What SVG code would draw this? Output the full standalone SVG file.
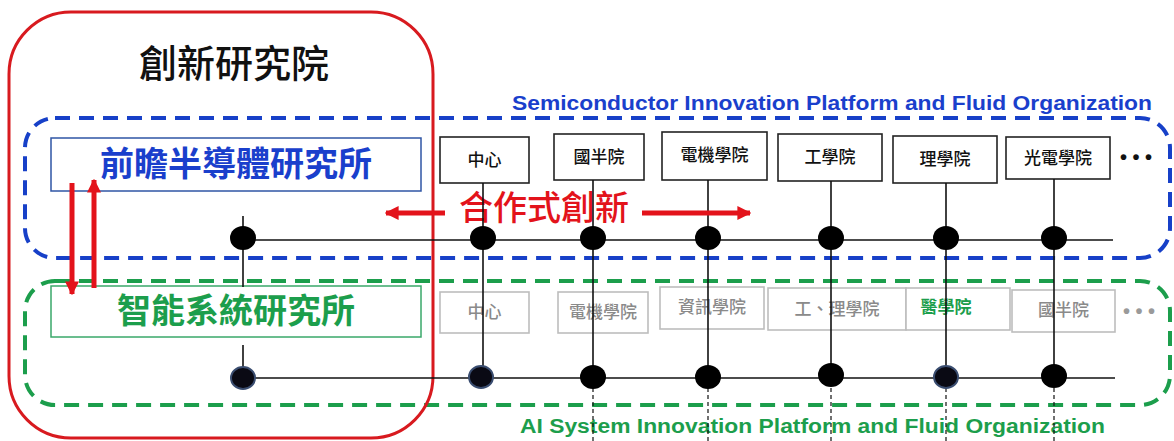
<svg xmlns="http://www.w3.org/2000/svg" width="1174" height="441" viewBox="0 0 1174 441">
<defs>
<style>
.cjk{font-family:"Noto Sans CJK TC","Noto Sans CJK SC",sans-serif}
.lat{font-family:"Liberation Sans",Arial,sans-serif;font-weight:bold}
.box{fill:#fff;stroke:#222;stroke-width:1.6}
.gbox{fill:#fff;stroke:#bdbdbd;stroke-width:1.6}
.lbl{font-size:17px;fill:#111;font-weight:500;text-anchor:middle}
.glbl{font-size:17px;fill:#8a8a8a;font-weight:500;text-anchor:middle}
.bus{stroke:#111;stroke-width:1.6;fill:none}
.dash{stroke:#111;stroke-width:1.2;stroke-dasharray:4 3;fill:none}
.dot{fill:#000}
.dotb{fill:#0a0a14;stroke:#3a4d70;stroke-width:2}
.red{stroke:#e3131b;stroke-width:5;fill:none}
</style>
<marker id="ah" viewBox="0 0 10 10" refX="9" refY="5" markerWidth="2.8" markerHeight="2.8" orient="auto" markerUnits="strokeWidth">
<path d="M0,0 L10,5 L0,10 Z" fill="#e3131b"/>
</marker>
</defs>
<rect width="1174" height="441" fill="#fff"/>

<g id="semiconductor-platform">
<rect x="25" y="118" width="1145" height="140" rx="30" fill="none" stroke="#1740c8" stroke-width="4" stroke-dasharray="15 9"/>
<text class="lat" x="512" y="110" font-size="20" fill="#1a3fcc" textLength="640" lengthAdjust="spacingAndGlyphs">Semiconductor Innovation Platform and Fluid Organization</text>
</g>
<g id="ai-platform">
<rect x="25" y="281" width="1145" height="124" rx="30" fill="none" stroke="#1c9e4c" stroke-width="4" stroke-dasharray="15 9"/>
<text class="lat" x="520" y="433" font-size="20" fill="#1c9e4c" textLength="585" lengthAdjust="spacingAndGlyphs">AI System Innovation Platform and Fluid Organization</text>
</g>

<g id="innovation-institute">
<rect x="9" y="12" width="424" height="426" rx="62" fill="none" stroke="#d81a1f" stroke-width="3"/>
<text class="cjk" x="234" y="77" font-size="38" font-weight="500" fill="#111" text-anchor="middle">創新研究院</text>
</g>

<g id="collab-label">
<text class="cjk" x="544" y="220" font-size="34" font-weight="500" fill="#e3131b" text-anchor="middle">合作式創新</text>
</g>

<g id="semi-institute">
<rect x="51" y="138" width="370" height="53" fill="#fff" stroke="#2f55a5" stroke-width="1.5"/>
<text class="cjk" x="236" y="176" font-size="34" font-weight="bold" fill="#1a3fcc" text-anchor="middle">前瞻半導體研究所</text>
</g>
<g id="ai-institute">
<rect x="51" y="286" width="370" height="51" fill="#fff" stroke="#3aa86a" stroke-width="1.5"/>
<text class="cjk" x="236" y="323" font-size="34" font-weight="bold" fill="#1c9e4c" text-anchor="middle">智能系統研究所</text>
</g>

<g id="top-center"><rect class="box" x="440" y="137" width="89" height="46"/><text class="cjk lbl" x="484.5" y="166">中心</text></g>
<g id="top-nsri"><rect class="box" x="554" y="134" width="90" height="46"/><text class="cjk lbl" x="599" y="163">國半院</text></g>
<g id="top-ee"><rect class="box" x="662" y="132" width="105" height="48"/><text class="cjk lbl" x="714.5" y="161">電機學院</text></g>
<g id="top-eng"><rect class="box" x="778" y="134" width="104" height="47"/><text class="cjk lbl" x="830" y="163">工學院</text></g>
<g id="top-sci"><rect class="box" x="893" y="136" width="104" height="47"/><text class="cjk lbl" x="945" y="165">理學院</text></g>
<g id="top-opto"><rect class="box" x="1006" y="137" width="104" height="42"/><text class="cjk lbl" x="1058" y="164">光電學院</text></g>
<g id="top-more"><text class="lat" x="1120" y="164" font-size="20" fill="#111">• • •</text></g>

<g id="bot-center"><rect class="gbox" x="440" y="292" width="89" height="41"/><text class="cjk glbl" x="484.5" y="318">中心</text></g>
<g id="bot-ee"><rect class="gbox" x="558" y="292" width="90" height="41"/><text class="cjk glbl" x="603" y="318">電機學院</text></g>
<g id="bot-cs"><rect class="gbox" x="660" y="287" width="104" height="42"/><text class="cjk glbl" x="712" y="313">資訊學院</text></g>
<g id="bot-engsci"><rect class="gbox" x="768" y="288" width="138" height="42"/><text class="cjk glbl" x="837" y="315">工、理學院</text></g>
<g id="bot-med"><rect class="gbox" x="906" y="288" width="104" height="42"/><text class="cjk" x="946" y="313" font-size="17" font-weight="bold" fill="#1c9e4c" text-anchor="middle">醫學院</text></g>
<g id="bot-nsri"><rect class="gbox" x="1012" y="290" width="103" height="42"/><text class="cjk glbl" x="1063.5" y="316">國半院</text></g>
<g id="bot-more"><text class="lat" x="1123" y="318" font-size="20" fill="#9a9a9a">• • •</text></g>

<g id="connectors">
<line class="bus" x1="243" y1="240" x2="1113" y2="240"/>
<line class="bus" x1="243" y1="378" x2="1115" y2="378"/>
<line class="bus" x1="243" y1="216" x2="243" y2="287"/>
<line class="bus" x1="243" y1="345" x2="243" y2="378"/>
<line class="bus" x1="483" y1="183" x2="483" y2="378"/>
<line class="bus" x1="593" y1="180" x2="593" y2="378"/>
<line class="bus" x1="708" y1="180" x2="708" y2="378"/>
<line class="bus" x1="831" y1="181" x2="831" y2="378"/>
<line class="bus" x1="946" y1="183" x2="946" y2="378"/>
<line class="bus" x1="1054" y1="179" x2="1054" y2="378"/>
<line class="dash" x1="593" y1="388" x2="593" y2="441"/>
<line class="dash" x1="708" y1="388" x2="708" y2="441"/>
<line class="dash" x1="831" y1="388" x2="831" y2="441"/>
<line class="dash" x1="946" y1="388" x2="946" y2="441"/>
<line class="dash" x1="1054" y1="388" x2="1054" y2="441"/>
<ellipse class="dot" cx="243" cy="238" rx="13" ry="12"/>
<ellipse class="dot" cx="483" cy="238" rx="13" ry="12"/>
<ellipse class="dot" cx="593" cy="238" rx="13" ry="12"/>
<ellipse class="dot" cx="708" cy="238" rx="13" ry="12"/>
<ellipse class="dot" cx="831" cy="238" rx="13" ry="12"/>
<ellipse class="dot" cx="946" cy="238" rx="13" ry="12"/>
<ellipse class="dot" cx="1054" cy="238" rx="13" ry="12"/>
<ellipse class="dotb" cx="243" cy="378" rx="12" ry="11"/>
<ellipse class="dotb" cx="481" cy="377" rx="12" ry="11"/>
<ellipse class="dot" cx="593" cy="377" rx="13" ry="12"/>
<ellipse class="dot" cx="708" cy="377" rx="13" ry="12"/>
<ellipse class="dot" cx="831" cy="375" rx="13" ry="12"/>
<ellipse class="dotb" cx="946" cy="377" rx="12" ry="11"/>
<ellipse class="dot" cx="1054" cy="376" rx="13" ry="12"/>
<line class="red" x1="72" y1="183" x2="72" y2="294" marker-end="url(#ah)"/>
<line class="red" x1="94" y1="288" x2="94" y2="180" marker-end="url(#ah)"/>
<line class="red" x1="445" y1="213" x2="386" y2="213" marker-end="url(#ah)"/>
<line class="red" x1="642" y1="213" x2="750" y2="213" marker-end="url(#ah)"/>
</g>
</svg>
